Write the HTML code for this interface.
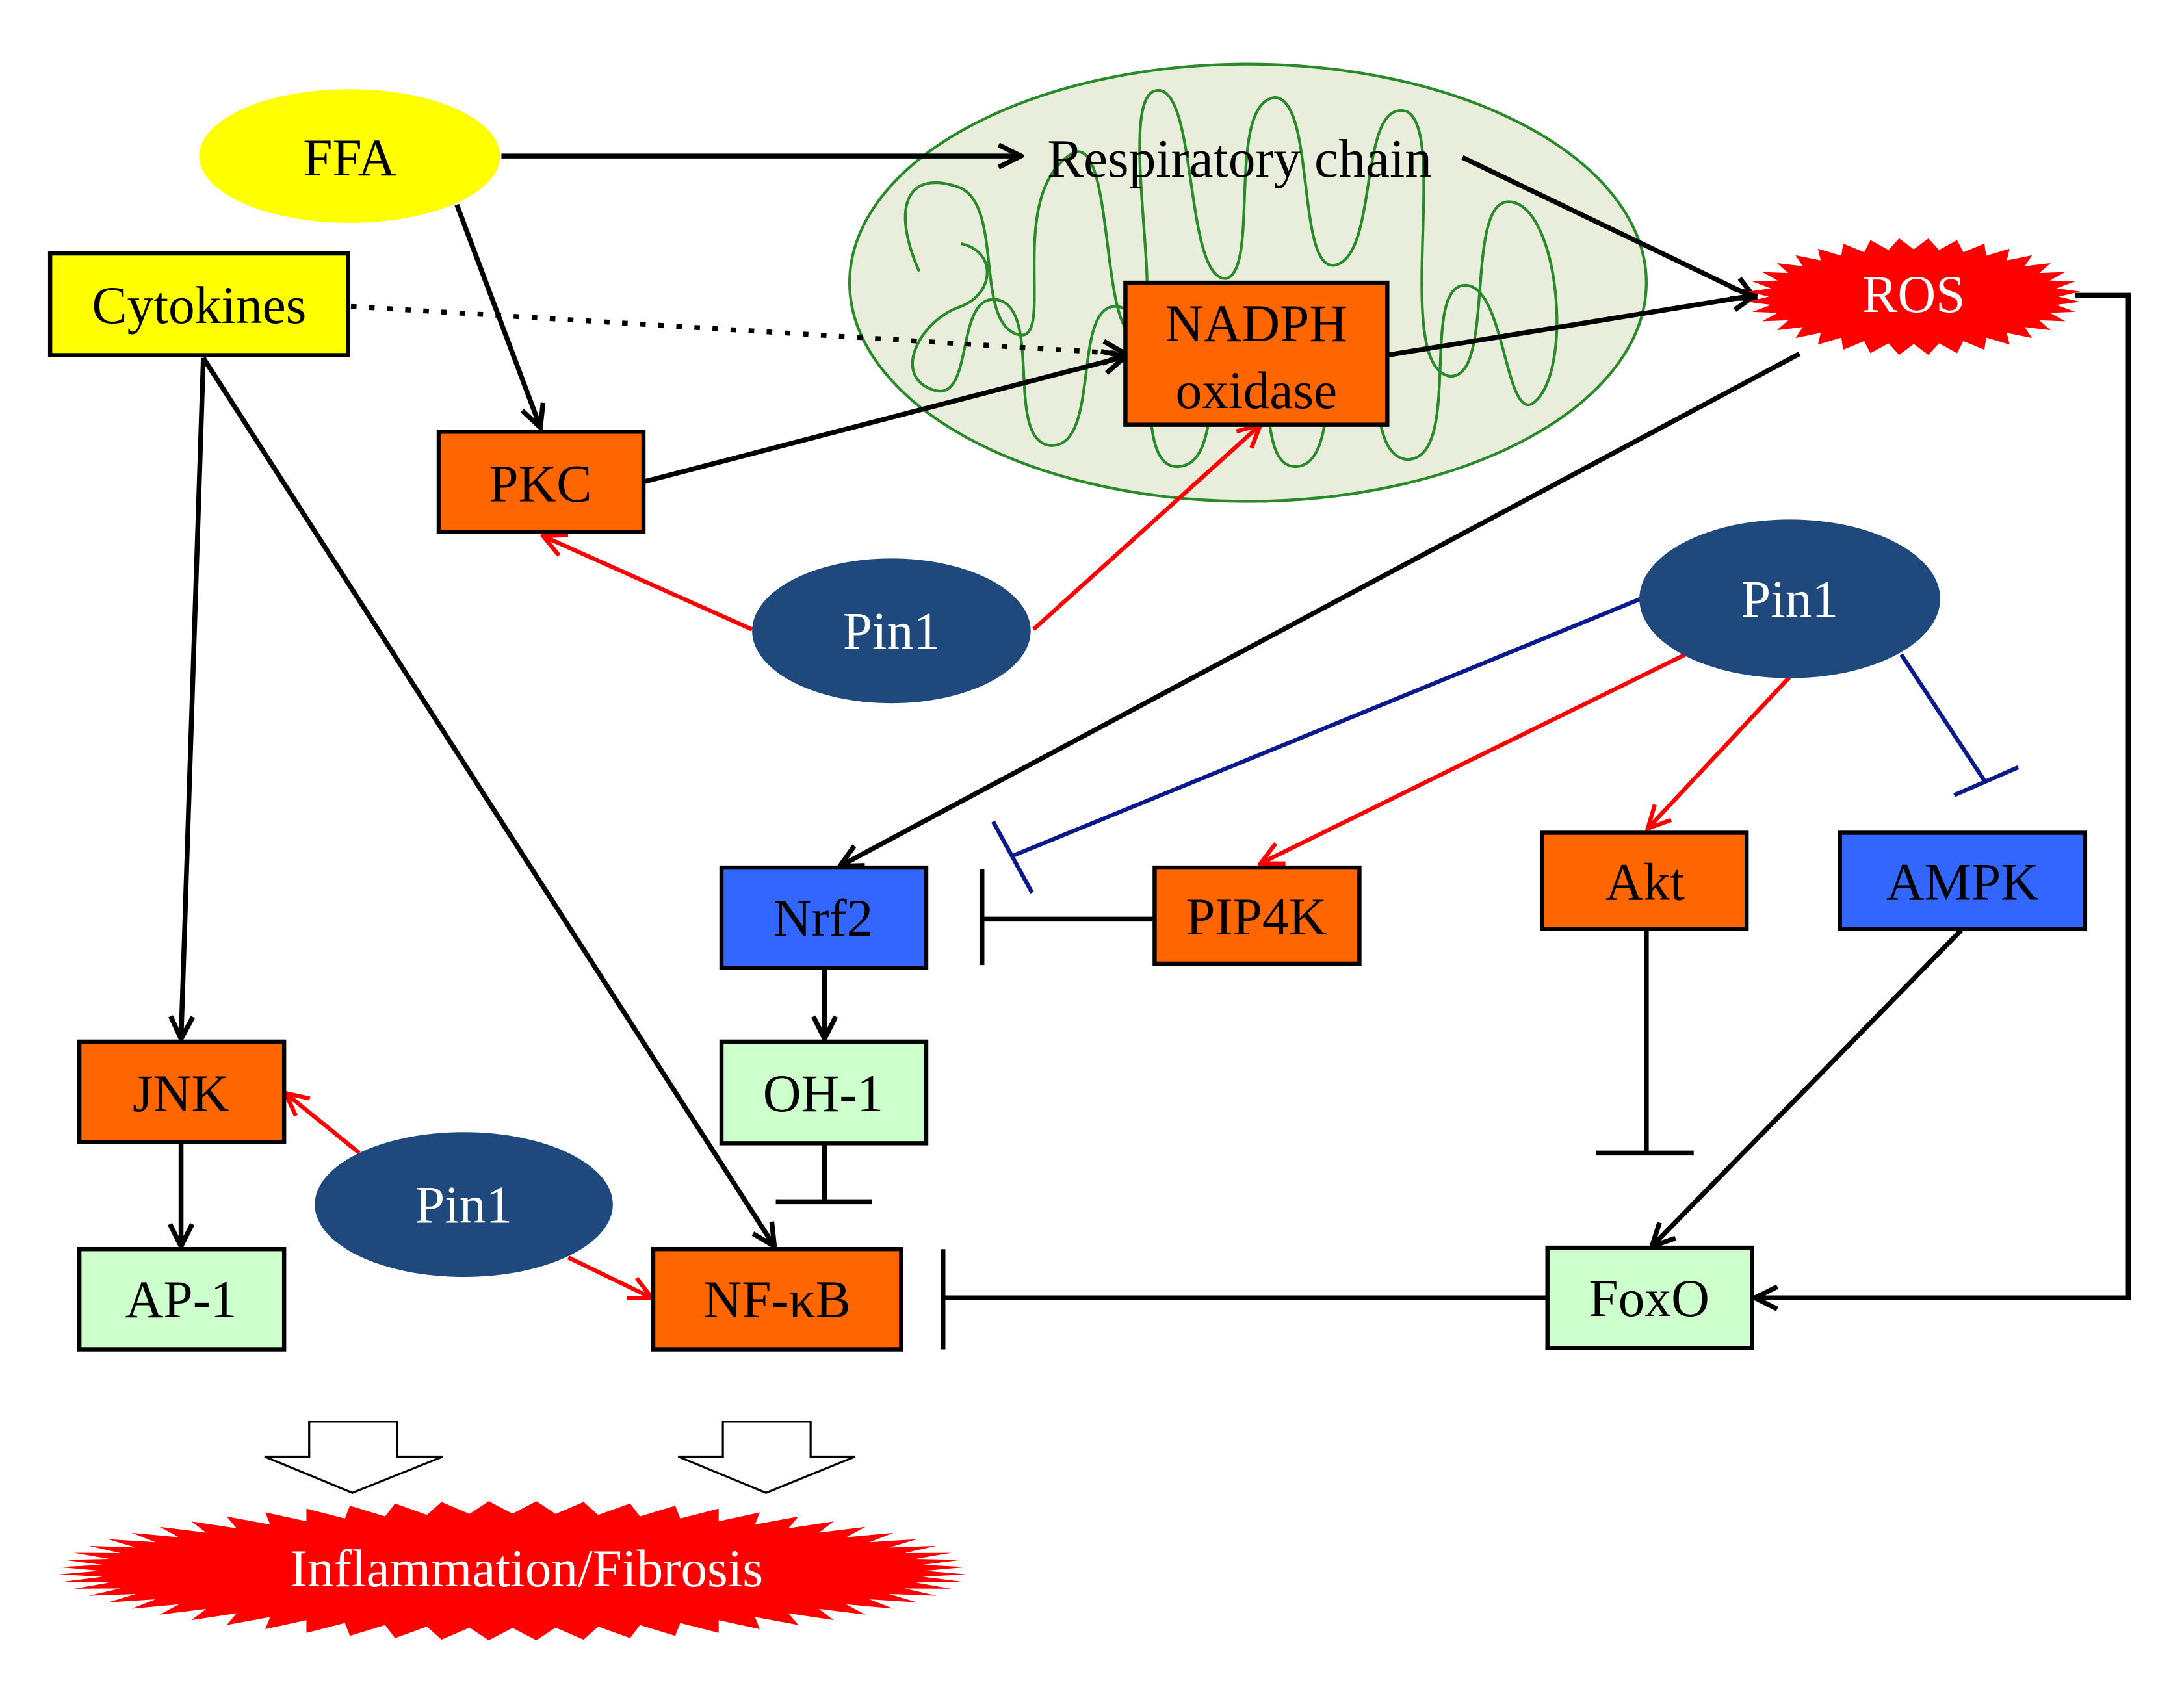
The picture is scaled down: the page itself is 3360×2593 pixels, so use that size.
<!DOCTYPE html>
<html><head><meta charset="utf-8"><style>html,body{margin:0;padding:0;background:#fff}svg{display:block}text{font-family:"Liberation Serif",serif}</style></head>
<body>
<svg width="3360" height="2593" viewBox="0 0 1568 1210" xmlns="http://www.w3.org/2000/svg">
<defs>
<marker id="abk" markerWidth="20" markerHeight="20" refX="18" refY="10" orient="auto" markerUnits="userSpaceOnUse"><path d="M2,2 L18,10 L2,18" fill="none" stroke="#000" stroke-width="3.5"/></marker>
<marker id="arr" markerWidth="20" markerHeight="20" refX="18" refY="10" orient="auto" markerUnits="userSpaceOnUse"><path d="M2,2 L18,10 L2,18" fill="none" stroke="#f00" stroke-width="3"/></marker>
</defs>
<ellipse cx="896" cy="203" rx="286" ry="157" fill="#e8eddc" stroke="#2a8a2a" stroke-width="2"/>
<path d="M660,195 C640,150 650,120 690,135 C720,150 700,230 730,240 C760,250 720,140 770,110 C800,95 790,240 815,240 C840,240 800,70 830,65 C860,60 850,200 880,200 C905,195 880,75 915,70 C945,70 930,200 960,190 C990,180 975,70 1010,80 C1040,95 1000,260 1040,270 C1075,275 1050,140 1085,145 C1120,150 1130,270 1100,290 C1080,300 1080,200 1050,205 C1020,210 1050,330 1010,330 C975,325 1000,230 970,230 C945,232 965,335 930,335 C900,335 920,250 890,250 C860,252 880,335 845,335 C810,335 840,220 800,220 C770,222 790,320 755,320 C720,318 750,220 715,215 C685,212 700,290 670,280 C640,270 660,230 690,220 C715,210 715,180 690,175" fill="none" stroke="#2a8a2a" stroke-width="2"/>
<g stroke="#000" stroke-width="3.5" fill="none">
<line x1="360" y1="112" x2="733" y2="112" marker-end="url(#abk)"/>
<line x1="1050" y1="113" x2="1260" y2="214" marker-end="url(#abk)"/>
<line x1="328" y1="147" x2="388" y2="307" marker-end="url(#abk)"/>
<line x1="252" y1="220" x2="808" y2="254" stroke-dasharray="4,9" marker-end="url(#abk)"/>
<line x1="462" y1="346" x2="808" y2="256" marker-end="url(#abk)"/>
<line x1="996" y1="255" x2="1260" y2="212" marker-end="url(#abk)"/>
<line x1="1292" y1="254" x2="603" y2="622" marker-end="url(#abk)"/>
<polyline points="1490,212 1528,212 1528,932 1260,932" marker-end="url(#abk)"/>
<line x1="829" y1="660" x2="705" y2="660"/><line x1="705" y1="624" x2="705" y2="693"/>
<line x1="592" y1="695" x2="592" y2="746" marker-end="url(#abk)"/>
<line x1="592" y1="821" x2="592" y2="863"/><line x1="557" y1="863" x2="626" y2="863"/>
<line x1="146" y1="257" x2="130" y2="746" marker-end="url(#abk)"/>
<line x1="146" y1="257" x2="556" y2="895" marker-end="url(#abk)"/>
<line x1="130" y1="820" x2="130" y2="895" marker-end="url(#abk)"/>
<line x1="1182" y1="668" x2="1182" y2="828"/><line x1="1146" y1="828" x2="1216" y2="828"/>
<line x1="1408" y1="668" x2="1186" y2="895" marker-end="url(#abk)"/>
<line x1="1111" y1="932" x2="677" y2="932"/><line x1="677" y1="897" x2="677" y2="969"/>
</g>
<g stroke="#f00" stroke-width="3" fill="none">
<line x1="540" y1="452" x2="390" y2="385" marker-end="url(#arr)"/>
<line x1="742" y1="452" x2="905" y2="305" marker-end="url(#arr)"/>
<line x1="1210" y1="470" x2="905" y2="620" marker-end="url(#arr)"/>
<line x1="1285" y1="486" x2="1183" y2="595" marker-end="url(#arr)"/>
<line x1="258" y1="828" x2="205" y2="785" marker-end="url(#arr)"/>
<line x1="408" y1="903" x2="468" y2="932" marker-end="url(#arr)"/>
</g>
<g stroke="#0a1a8a" stroke-width="3" fill="none">
<line x1="1178" y1="430" x2="726" y2="615"/><line x1="713" y1="590" x2="741" y2="641"/>
<line x1="1365" y1="470" x2="1425" y2="561"/><line x1="1403" y1="571" x2="1449" y2="551"/>
</g>
<g font-size="38" text-anchor="middle">
<ellipse cx="251" cy="112" rx="108" ry="48" fill="#ffff00"/>
<text x="251" y="126">FFA</text>
<rect x="36" y="182" width="214" height="73" fill="#ffff00" stroke="#000" stroke-width="3"/>
<text x="143" y="232">Cytokines</text>
<text x="890" y="127" font-size="39">Respiratory chain</text>
<polygon id="ros" fill="#f00" points=""/>
<text x="1374" y="224" fill="#fff">ROS</text>
<rect x="808" y="203" width="188" height="102" fill="#ff6600" stroke="#000" stroke-width="3"/>
<text x="902" y="245">NADPH</text>
<text x="902" y="293">oxidase</text>
<rect x="315" y="310" width="147" height="72" fill="#ff6600" stroke="#000" stroke-width="3"/>
<text x="388" y="360">PKC</text>
<ellipse cx="640" cy="453" rx="100" ry="52" fill="#1f497d"/>
<text x="640" y="466" fill="#fff">Pin1</text>
<ellipse cx="1285" cy="430" rx="108" ry="57" fill="#1f497d"/>
<text x="1285" y="443" fill="#fff">Pin1</text>
<ellipse cx="333" cy="865" rx="107" ry="52" fill="#1f497d"/>
<text x="333" y="878" fill="#fff">Pin1</text>
<rect x="518" y="623" width="147" height="72" fill="#3366ff" stroke="#000" stroke-width="3"/>
<text x="591" y="672">Nrf2</text>
<rect x="829" y="623" width="147" height="69" fill="#ff6600" stroke="#000" stroke-width="3"/>
<text x="902" y="671">PIP4K</text>
<rect x="1107" y="598" width="147" height="69" fill="#ff6600" stroke="#000" stroke-width="3"/>
<text x="1181" y="646">Akt</text>
<rect x="1321" y="598" width="176" height="69" fill="#3366ff" stroke="#000" stroke-width="3"/>
<text x="1409" y="646">AMPK</text>
<rect x="518" y="748" width="147" height="73" fill="#ccffcc" stroke="#000" stroke-width="3"/>
<text x="591" y="798">OH-1</text>
<rect x="57" y="748" width="147" height="72" fill="#ff6600" stroke="#000" stroke-width="3"/>
<text x="130" y="798">JNK</text>
<rect x="57" y="897" width="147" height="72" fill="#ccffcc" stroke="#000" stroke-width="3"/>
<text x="130" y="946">AP-1</text>
<rect x="469" y="897" width="178" height="72" fill="#ff6600" stroke="#000" stroke-width="3"/>
<text x="558" y="946">NF-κB</text>
<rect x="1111" y="896" width="147" height="72" fill="#ccffcc" stroke="#000" stroke-width="3"/>
<text x="1184" y="945">FoxO</text>
<polygon points="222,1021 285,1021 285,1046 318,1046 253,1072 190,1046 222,1046" fill="#fff" stroke="#000" stroke-width="1.5"/>
<polygon points="519,1021 582,1021 582,1046 614,1046 550,1072 487,1046 519,1046" fill="#fff" stroke="#000" stroke-width="1.5"/>
<polygon id="inf" fill="#f00" points=""/>
<text x="378" y="1139" fill="#fff">Inflammation/Fibrosis</text>
</g>
<script>
function star(id,cx,cy,rx,ry,n,dx,dy){var p=[];for(var i=0;i<2*n;i++){var a=Math.PI*i/n,o=i%2;p.push((cx+(rx-(o?0:dx))*Math.cos(a)).toFixed(1)+','+(cy+(ry-(o?0:dy))*Math.sin(a)).toFixed(1));}document.getElementById(id).setAttribute('points',p.join(' '));}
star('ros',1374,213,120,42,36,16,8);
star('inf',368,1128,326,50,60,30,9);
</script>
</svg>
</body></html>
